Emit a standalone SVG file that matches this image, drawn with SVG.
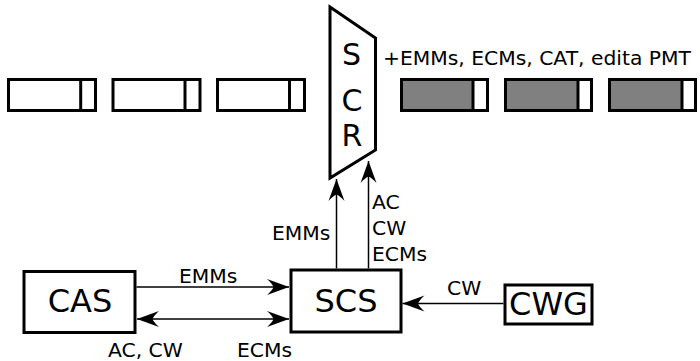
<svg xmlns="http://www.w3.org/2000/svg" width="700" height="361" viewBox="0 0 700 361">
<style>
.box{fill:#fff;stroke:#000;stroke-width:3}
.cell{fill:#fff;stroke:#000;stroke-width:3}
.gcell{fill:#808080;stroke:#000;stroke-width:3}
.div{stroke:#000;stroke-width:3}
.conn{stroke:#000;stroke-width:1.5;fill:none}
.big{font-family:"DejaVu Sans",sans-serif;font-size:32px;fill:#000}
.scr{font-family:"DejaVu Sans",sans-serif;font-size:30px;fill:#000}
.lbl{font-family:"DejaVu Sans",sans-serif;font-size:20.3px;fill:#000}
</style>
<defs>
<marker id="ah" markerUnits="userSpaceOnUse" markerWidth="26" markerHeight="20" viewBox="-24 -10 26 20" refX="0" refY="0" orient="auto-start-reverse">
<path d="M0,0 L-22,-8 Q-16.5,-3 -15.5,0 Q-16.5,3 -22,8 Z" fill="#000"/>
</marker>
</defs>
<g id="stream-in">
<rect class="cell" x="8.5" y="79.5" width="87" height="31"/><line class="div" x1="80.7" y1="79.5" x2="80.7" y2="110.5"/>
<rect class="cell" x="113" y="79.5" width="87" height="31"/><line class="div" x1="185" y1="79.5" x2="185" y2="110.5"/>
<rect class="cell" x="217.5" y="79.5" width="87" height="31"/><line class="div" x1="289.5" y1="79.5" x2="289.5" y2="110.5"/>
</g>
<g id="stream-out">
<rect class="gcell" x="401.5" y="79.5" width="86" height="31"/><rect x="473" y="81" width="13" height="28" fill="#fff"/><line class="div" x1="473" y1="79.5" x2="473" y2="110.5"/>
<rect class="gcell" x="505.5" y="79.5" width="86" height="31"/><rect x="578" y="81" width="12" height="28" fill="#fff"/><line class="div" x1="578" y1="79.5" x2="578" y2="110.5"/>
<rect class="gcell" x="609.5" y="79.5" width="86" height="31"/><rect x="682" y="81" width="12" height="28" fill="#fff"/><line class="div" x1="682" y1="79.5" x2="682" y2="110.5"/>
<text class="lbl" x="383" y="65">+EMMs, ECMs, CAT, edita PMT</text>
</g>
<g id="SCR">
<polygon class="box" points="330,7 375.5,38 375.5,150 330,178"/>
<text class="scr" x="351.5" y="65" text-anchor="middle">S</text>
<text class="scr" x="352" y="111" text-anchor="middle">C</text>
<text class="scr" x="352" y="146" text-anchor="middle">R</text>
</g>
<g id="CAS">
<rect class="box" x="24" y="271.5" width="111" height="61"/>
<text class="big" x="80" y="312" text-anchor="middle">CAS</text>
</g>
<g id="SCS">
<rect class="box" x="291" y="270" width="110" height="62"/>
<text class="big" x="346" y="311.5" text-anchor="middle">SCS</text>
</g>
<g id="CWG">
<rect class="box" x="505" y="285" width="87" height="39"/>
<text class="big" x="548.5" y="315" text-anchor="middle">CWG</text>
</g>
<g id="connectors">
<line class="conn" x1="136.5" y1="287" x2="289" y2="287" marker-end="url(#ah)"/>
<line class="conn" x1="137" y1="319" x2="289" y2="319" marker-start="url(#ah)" marker-end="url(#ah)"/>
<line class="conn" x1="503.5" y1="303.5" x2="402.5" y2="303.5" marker-end="url(#ah)"/>
<line class="conn" x1="336.5" y1="268.5" x2="336.5" y2="179" marker-end="url(#ah)"/>
<line class="conn" x1="368.5" y1="268.5" x2="368.5" y2="161" marker-end="url(#ah)"/>
<text class="lbl" x="179" y="283">EMMs</text>
<text class="lbl" x="108" y="357">AC, CW</text>
<text class="lbl" x="237" y="357">ECMs</text>
<text class="lbl" x="447" y="295">CW</text>
<text class="lbl" x="272" y="240">EMMs</text>
<text class="lbl" x="372" y="209">AC</text>
<text class="lbl" x="372" y="235">CW</text>
<text class="lbl" x="372" y="261">ECMs</text>
</g>
</svg>
